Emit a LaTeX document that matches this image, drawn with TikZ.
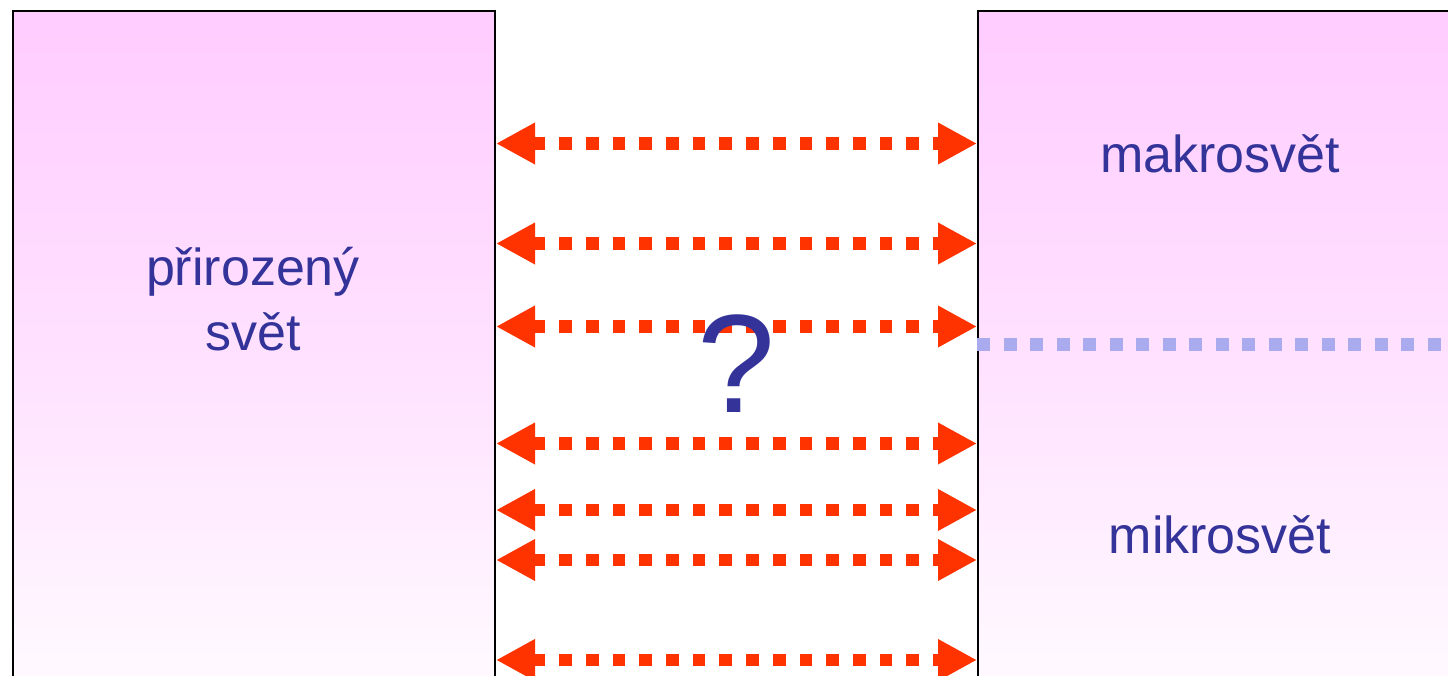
\documentclass[tikz,border=0pt]{standalone}
\usepackage{fontspec}
\setmainfont{Liberation Sans}
\usetikzlibrary{arrows.meta,positioning}
\definecolor{txtcol}{HTML}{333399}
\definecolor{arrcol}{HTML}{FF3300}
\definecolor{boxcol}{HTML}{FFCCFF}
\definecolor{sepcol}{HTML}{AAAAEE}

\begin{document}
\begin{tikzpicture}[x=1pt,y=-1pt,
  world/.style={draw=black,line width=2pt,top color=boxcol,bottom color=white,
    middle color=boxcol!55,rectangle,inner sep=0pt},
  lbl/.style={text=txtcol,font=\fontsize{52}{64}\selectfont,anchor=base},
  link/.style={arrcol,line width=12.7pt,dash pattern=on 12.7pt off 14pt,
    {Triangle[length=39pt,width=39pt]}-{Triangle[length=39pt,width=39pt]}}]
  \useasboundingbox (0,0) rectangle (1448,676);
  \clip (0,0) rectangle (1448,676);
  % the two worlds
  \node[world,minimum width=482.5pt,minimum height=740pt,anchor=north west] (nat) at (11.5,10.5) {};
  \node[world,minimum width=500pt,minimum height=740pt,anchor=north west] (sci) at (977,10.5) {};
  \draw[sepcol,line width=13pt,dash pattern=on 13.3pt off 13.2pt] (sci.west |- 0,344) coordinate (sep) -- (1448,344) coordinate (sepend);
  \node[lbl] (pz) at (253,286) {přirozený};
  \node[lbl] (sv) at (253,350) {svět};
  \node[lbl] (mak) at (1220,173) {makrosvět};
  \node[lbl] (mik) at (1220,553) {mikrosvět};
  % links between them
  \foreach \y [count=\i] in {143.5,243.5,326.5,443.5,510,560,660} {
    \coordinate (l\i) at (nat.east |- 0,\y);
    \coordinate (r\i) at (sci.west |- 0,\y);
    \draw[link] (l\i) -- (r\i);
  }
  \node[text=txtcol,font=\fontsize{140}{140}\selectfont,anchor=base] (q) at (736,412) {?};
\end{tikzpicture}
\end{document}
